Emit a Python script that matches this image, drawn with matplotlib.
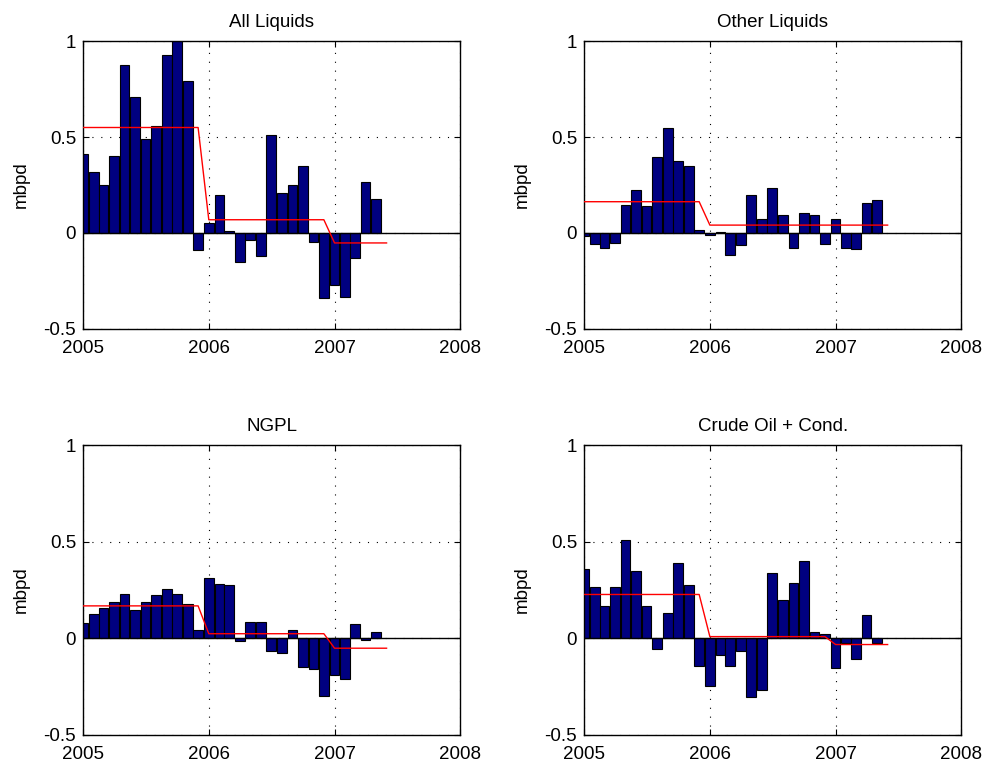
import numpy as np
import pandas as pd
import matplotlib
matplotlib.use("Agg")
import matplotlib.pyplot as plt
import matplotlib.dates as mdates

plt.rcParams['font.family'] = ['Liberation Sans', 'DejaVu Sans']

# monthly changes (mbpd), Jan 2005 .. May 2007
months = pd.date_range('2005-01-01', periods=29, freq='MS')

all_liquids = [0.41, 0.32, 0.25, 0.40, 0.876, 0.71, 0.49, 0.56, 0.93, 1.0,
               0.79, -0.09, 0.053, 0.197, 0.01, -0.15, -0.038, -0.12, 0.51, 0.21,
               0.25, 0.35, -0.048, -0.34, -0.27, -0.335, -0.13, 0.265, 0.176]
other_liquids = [-0.014, -0.06, -0.077, -0.05, 0.146, 0.226, 0.142, 0.394, 0.545, 0.377,
                 0.35, 0.017, -0.01, 0.003, -0.115, -0.062, 0.199, 0.075, 0.236, 0.094,
                 -0.079, 0.104, 0.096, -0.06, 0.075, -0.079, -0.086, 0.156, 0.171]
ngpl = [0.077, 0.126, 0.157, 0.186, 0.227, 0.147, 0.186, 0.225, 0.256, 0.227,
        0.177, 0.044, 0.31, 0.283, 0.276, -0.014, 0.084, 0.084, -0.063, -0.078,
        0.044, -0.148, -0.16, -0.297, -0.188, -0.212, 0.075, -0.009, 0.034]
crude = [0.357, 0.266, 0.166, 0.266, 0.509, 0.346, 0.166, -0.056, 0.133, 0.392,
         0.276, -0.145, -0.246, -0.085, -0.145, -0.067, -0.305, -0.265, 0.338, 0.196,
         0.287, 0.398, 0.032, 0.022, -0.152, -0.022, -0.106, 0.123, -0.026]

# yearly averages drawn as the red line
avg_dates = pd.to_datetime(['2005-01-01', '2005-12-01', '2006-01-01',
                            '2006-12-01', '2007-01-01', '2007-06-01'])
avg_all = [0.55, 0.55, 0.069, 0.069, -0.052, -0.052]
avg_other = [0.163, 0.163, 0.041, 0.041, 0.041, 0.041]
avg_ngpl = [0.168, 0.168, 0.024, 0.024, -0.051, -0.051]
avg_crude = [0.227, 0.227, 0.009, 0.009, -0.032, -0.032]

titles = ['All Liquids', 'Other Liquids', 'NGPL', 'Crude Oil + Cond.']
series = [all_liquids, other_liquids, ngpl, crude]
avgs = [avg_all, avg_other, avg_ngpl, avg_crude]

fig = plt.figure(figsize=(9.85, 7.63), dpi=100)
rects = [[0.0843, 0.569, 0.383, 0.377],
         [0.593, 0.569, 0.383, 0.377],
         [0.0843, 0.0367, 0.383, 0.380],
         [0.593, 0.0367, 0.383, 0.380]]

years = pd.to_datetime(['2005-01-01', '2006-01-01', '2007-01-01', '2008-01-01'])

for rect, title, vals, avg in zip(rects, titles, series, avgs):
    ax = fig.add_axes(rect)
    ax.bar(months, vals, width=28, color='#000080', edgecolor='black',
           linewidth=0.8, zorder=2)
    ax.axhline(0, color='black', linewidth=1, zorder=3)
    ax.plot(avg_dates, avg, color='red', linewidth=1, zorder=4)

    ax.set_xlim(years[0], years[-1])
    ax.set_ylim(-0.5, 1)
    ax.set_xticks(years)
    ax.xaxis.set_major_formatter(mdates.DateFormatter('%Y'))
    ax.set_yticks([-0.5, 0, 0.5, 1])
    ax.set_yticklabels(['-0.5', '0', '0.5', '1'])
    ax.tick_params(direction='in', length=4, labelsize=13.5,
                   top=True, right=True)
    ax.tick_params(axis='x', pad=8)
    ax.tick_params(axis='y', pad=5)
    ax.grid(True, linestyle=(0, (1, 7)), color='black', linewidth=0.8, zorder=1)
    ax.set_axisbelow(True)
    for s in ax.spines.values():
        s.set_linewidth(1)
    ax.set_title(title, fontsize=13.5, pad=10)
    ax.set_ylabel('mbpd', fontsize=13.5, labelpad=10)

fig.savefig('out.png', dpi=100)
